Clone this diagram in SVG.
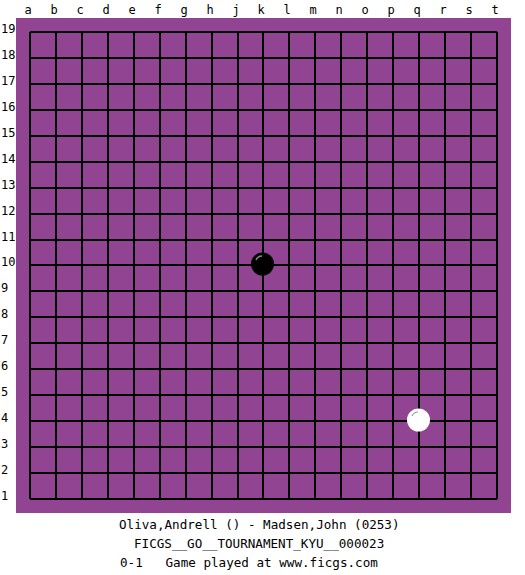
<svg xmlns="http://www.w3.org/2000/svg" width="525" height="575" viewBox="0 0 525 575">
<style>
.lbl{font-family:"DejaVu Sans Mono","Liberation Mono",monospace;font-size:12px;fill:#000}
.col{text-anchor:middle}
.cap{font-family:"DejaVu Sans Mono","Liberation Mono",monospace;font-size:12.6px;fill:#000;white-space:pre}
.grid{stroke:#000;stroke-width:2;fill:none}
</style>
<rect width="525" height="575" fill="#fff"/>
<g id="board">
<rect x="16" y="18" width="495" height="495" fill="#914491"/>
<path class="grid" shape-rendering="crispEdges" d="M30 32V499M56 32V499M82 32V499M108 32V499M134 32V499M160 32V499M186 32V499M212 32V499M238 32V499M263 32V499M289 32V499M315 32V499M341 32V499M367 32V499M393 32V499M419 32V499M445 32V499M471 32V499M497 32V499M30 32H497M30 58H497M30 84H497M30 110H497M30 136H497M30 162H497M30 188H497M30 214H497M30 240H497M30 265H497M30 291H497M30 317H497M30 343H497M30 369H497M30 395H497M30 421H497M30 447H497M30 473H497M30 499H497"/>
</g>
<g id="col-labels" class="lbl col">
<text x="28" y="14">a</text><text x="54" y="14">b</text><text x="80" y="14">c</text><text x="106" y="14">d</text><text x="132" y="14">e</text><text x="158" y="14">f</text><text x="184" y="14">g</text><text x="210" y="14">h</text><text x="236" y="14">j</text><text x="261" y="14">k</text><text x="287" y="14">l</text><text x="313" y="14">m</text><text x="339" y="14">n</text><text x="365" y="14">o</text><text x="391" y="14">p</text><text x="417" y="14">q</text><text x="443" y="14">r</text><text x="469" y="14">s</text><text x="495" y="14">t</text>
</g>
<g id="row-labels" class="lbl">
<text x="1" y="33">19</text><text x="1" y="59">18</text><text x="1" y="85">17</text><text x="1" y="111">16</text><text x="1" y="137">15</text><text x="1" y="163">14</text><text x="1" y="189">13</text><text x="1" y="215">12</text><text x="1" y="241">11</text><text x="1" y="266">10</text><text x="1" y="292">9</text><text x="1" y="318">8</text><text x="1" y="344">7</text><text x="1" y="370">6</text><text x="1" y="396">5</text><text x="1" y="422">4</text><text x="1" y="448">3</text><text x="1" y="474">2</text><text x="1" y="500">1</text>
</g>
<g id="stone-k10">
<circle cx="262.5" cy="264" r="11.5" fill="#000"/>
<path d="M256 260 A7 7 0 0 1 262 256" stroke="#888" stroke-width="1.5" fill="none"/>
</g>
<g id="stone-q4">
<circle cx="418.5" cy="420" r="11.5" fill="#fff"/>
<path d="M412 416 A7 7 0 0 1 418 412" stroke="#999" stroke-width="1.2" fill="none"/>
</g>
<g id="caption">
<text class="cap" x="119" y="529">Oliva,Andrell () - Madsen,John (0253)</text>
<text class="cap" x="134" y="548">FICGS__GO__TOURNAMENT_KYU__000023</text>
<text class="cap" x="120" y="567">0-1   Game played at www.ficgs.com</text>
</g>
</svg>
